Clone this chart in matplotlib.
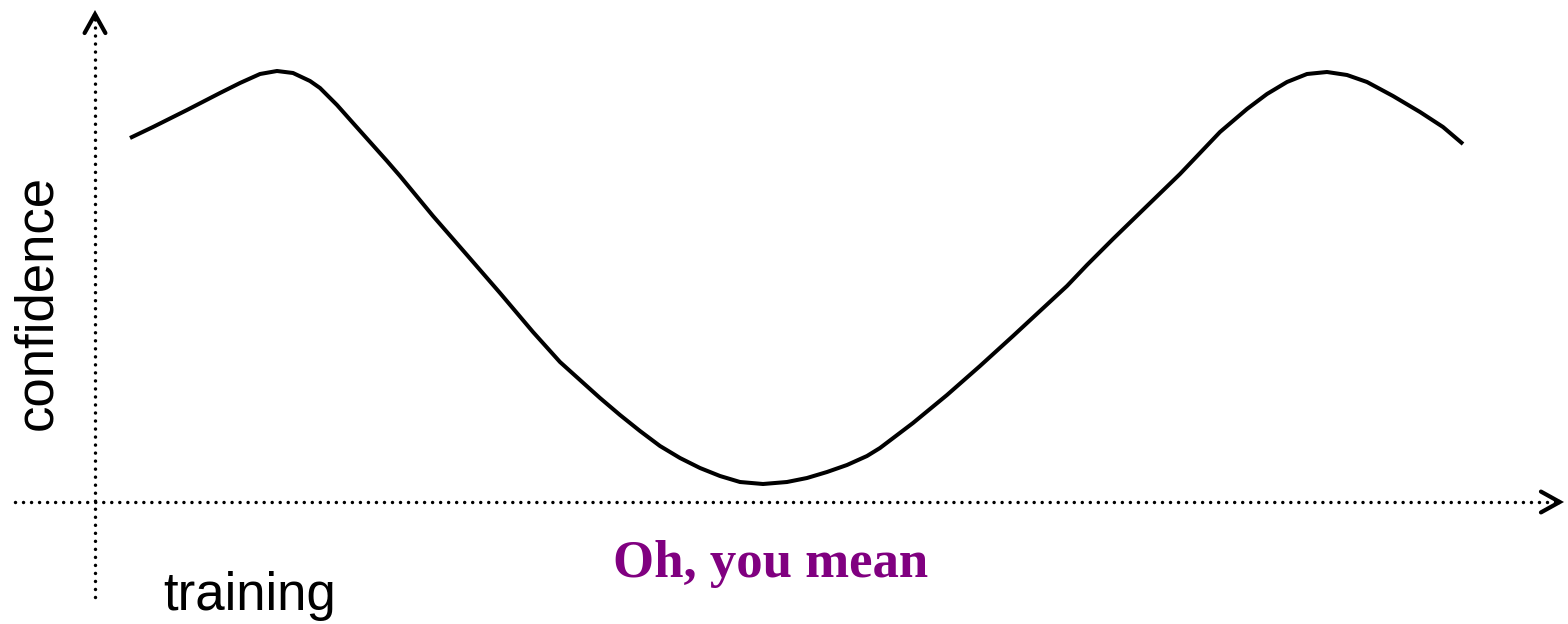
import matplotlib
matplotlib.use("Agg")
import matplotlib.pyplot as plt

# data: training progress vs confidence (origin at the axes crossing)
training = [35, 58, 92, 125, 145, 165, 182, 198, 215, 225, 242, 258, 275, 292,
            305, 338, 372, 405, 438, 465, 485, 505, 525, 545, 565, 585, 605,
            625, 645, 668, 692, 712, 732, 752, 772, 785, 818, 852, 885, 918,
            945, 972, 992, 1018, 1052, 1085, 1105, 1125, 1152, 1172, 1192,
            1212, 1232, 1252, 1272, 1298, 1325, 1348, 1368]
confidence = [364, 375, 392, 409, 419, 428, 431, 429, 421, 414, 397, 379, 360,
              341, 326, 286, 247, 209, 170, 140, 122, 104, 87, 71, 56, 44, 34,
              26, 20, 18, 20, 24, 30, 37, 46, 54, 79, 107, 136, 166, 191, 216,
              237, 263, 296, 328, 349, 370, 393, 408, 420, 428, 430, 427, 420,
              406, 390, 375, 358]

x_label = "training"
y_label = "confidence"
note = "Oh, you mean"

fig = plt.figure(figsize=(15.68, 6.24), dpi=100)
ax = fig.add_axes([0, 0, 1, 1])
ax.set_xlim(-95, 1473)
ax.set_ylim(-122, 502)
ax.axis("off")

# curve
ax.plot(training, confidence, color="black", lw=2.9, solid_capstyle="butt",
        solid_joinstyle="round")

# dotted axes
dot_kw = dict(color="black", lw=2.5, dash_capstyle="round")
hx, = ax.plot([-80, 1462], [0, 0], **dot_kw)
hx.set_dashes((0.01, 2.3))
vy, = ax.plot([0, 0], [-95, 484], **dot_kw)
vy.set_dashes((0.01, 2.3))

arrow_kw = dict(arrowstyle="->,head_length=1.35,head_width=0.75", lw=3,
                color="black", shrinkA=0, shrinkB=0, joinstyle="miter")
ax.annotate("", xy=(1469, 0), xytext=(1461, 0), arrowprops=arrow_kw)
ax.annotate("", xy=(0, 492), xytext=(0, 484), arrowprops=arrow_kw)

# labels
ax.text(-58, 200, y_label, rotation=90, ha="center", va="center",
        fontsize=38, family="Liberation Sans")
ax.text(68, -108, x_label, ha="left", va="baseline",
        fontsize=38, family="Liberation Sans")
ax.text(518, -75, note, ha="left", va="baseline", fontsize=38,
        family="Liberation Serif", fontweight="bold", color="#800080")

fig.savefig("out.png", dpi=100)
